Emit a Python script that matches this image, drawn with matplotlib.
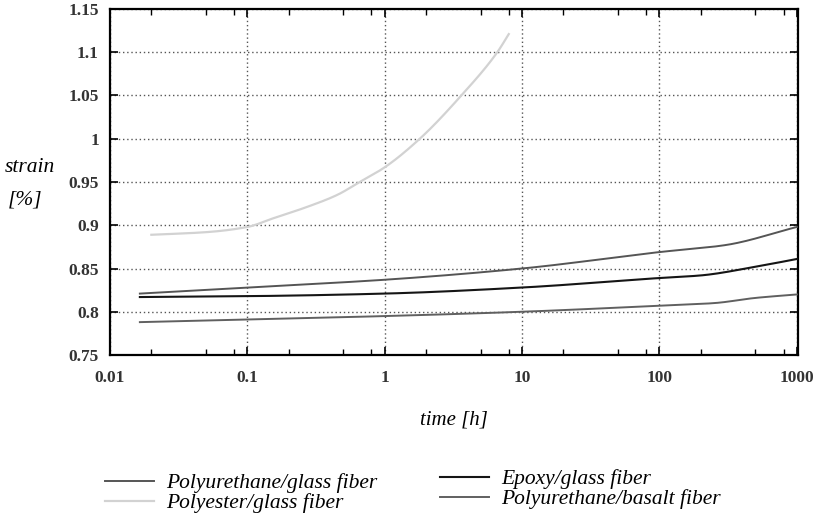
import numpy as np
import matplotlib.pyplot as plt
from matplotlib.ticker import FixedLocator, NullFormatter, FixedFormatter

plt.rcParams.update({
    "font.family": "Liberation Serif",
    "axes.linewidth": 1.6,
})

# time [h] and strain [%]
t_pu_glass = [0.0165, 0.1, 1, 10, 100, 300, 1000]
s_pu_glass = [0.821, 0.828, 0.837, 0.850, 0.869, 0.877, 0.898]

t_polyester = [0.02, 0.05, 0.1, 0.154, 0.27, 0.45, 0.658, 1, 1.8, 3.61, 6.6, 8.0]
s_polyester = [0.889, 0.892, 0.898, 0.908, 0.921, 0.935, 0.950, 0.967, 1.0, 1.05, 1.1, 1.121]

t_epoxy = [0.0165, 0.1, 1, 10, 100, 200, 500, 1000]
s_epoxy = [0.817, 0.818, 0.821, 0.828, 0.839, 0.842, 0.852, 0.861]

t_pu_basalt = [0.0165, 0.1, 1, 10, 100, 250, 500, 1000]
s_pu_basalt = [0.788, 0.791, 0.795, 0.800, 0.807, 0.810, 0.816, 0.820]

x_ticks = [0.01, 0.1, 1, 10, 100, 1000]
x_labels = ["0.01", "0.1", "1", "10", "100", "1000"]
y_ticks = [0.75, 0.8, 0.85, 0.9, 0.95, 1.0, 1.05, 1.1, 1.15]
y_labels = ["0.75", "0.8", "0.85", "0.9", "0.95", "1", "1.05", "1.1", "1.15"]


def pchip(t, s, n=300):
    """Monotone cubic (Fritsch-Carlson) through the read points, in log-time."""
    x = np.log10(np.asarray(t, float))
    y = np.asarray(s, float)
    h = np.diff(x)
    d = np.diff(y) / h
    m = np.zeros_like(y)
    for i in range(1, len(y) - 1):
        if d[i - 1] * d[i] > 0:
            w1 = 2 * h[i] + h[i - 1]
            w2 = h[i] + 2 * h[i - 1]
            m[i] = (w1 + w2) / (w1 / d[i - 1] + w2 / d[i])
    m[0], m[-1] = d[0], d[-1]
    xs = np.linspace(x[0], x[-1], n)
    idx = np.clip(np.searchsorted(x, xs) - 1, 0, len(h) - 1)
    tt = (xs - x[idx]) / h[idx]
    h00 = 2 * tt**3 - 3 * tt**2 + 1
    h10 = tt**3 - 2 * tt**2 + tt
    h01 = -2 * tt**3 + 3 * tt**2
    h11 = tt**3 - tt**2
    ys = h00 * y[idx] + h10 * h[idx] * m[idx] + h01 * y[idx + 1] + h11 * h[idx] * m[idx + 1]
    return 10 ** xs, ys


fig = plt.figure(figsize=(8.22, 5.2), dpi=100)
ax = fig.add_axes([0.1338, 0.3173, 0.837, 0.6654])

series = [
    (t_pu_glass, s_pu_glass, "#555555", 1.4, "Polyurethane/glass fiber"),
    (t_polyester, s_polyester, "#d2d2d2", 1.6, "Polyester/glass fiber"),
    (t_epoxy, s_epoxy, "#151515", 1.5, "Epoxy/glass fiber"),
    (t_pu_basalt, s_pu_basalt, "#606060", 1.4, "Polyurethane/basalt fiber"),
]
lines = []
for t, s, c, lw, lab in series:
    xx, yy = pchip(t, s)
    ln, = ax.plot(xx, yy, color=c, lw=lw, label=lab, zorder=3)
    lines.append(ln)

ax.set_xscale("log")
ax.set_xlim(0.01, 1020)
ax.set_ylim(0.75, 1.15)

ax.xaxis.set_major_locator(FixedLocator(x_ticks))
ax.xaxis.set_major_formatter(FixedFormatter(x_labels))
minor = [m * 10.0 ** e for e in range(-2, 3) for m in (2, 5, 8)]
ax.xaxis.set_minor_locator(FixedLocator(minor))
ax.xaxis.set_minor_formatter(NullFormatter())
ax.yaxis.set_major_locator(FixedLocator(y_ticks))
ax.yaxis.set_major_formatter(FixedFormatter(y_labels))

ax.tick_params(which="major", direction="in", length=6, width=1.2,
               top=True, right=True, labelsize=12.5, colors="black")
ax.tick_params(axis="x", which="major", pad=11)
ax.tick_params(axis="y", which="major", pad=8)
ax.tick_params(which="minor", direction="in", length=4, width=1.0,
               top=True, right=False)
for lab in ax.get_xticklabels() + ax.get_yticklabels():
    lab.set_fontweight("bold")
    lab.set_color("#333333")

ax.grid(True, which="major", color="#555555", linestyle=(0, (1, 2)), linewidth=1.0)

fig.text(0.006, 0.677, "strain", fontsize=15.5, style="italic", ha="left", va="center")
fig.text(0.010, 0.615, "[%]", fontsize=15.5, style="italic", ha="left", va="center")
fig.text(0.552, 0.192, "time [h]", fontsize=15, style="italic", ha="center", va="center")

leg_kw = dict(frameon=False, prop={"style": "italic", "size": 15.5},
              handlelength=2.3, handletextpad=0.55, labelspacing=0.0,
              borderaxespad=0, borderpad=0)
fig.legend(handles=lines[:2], loc="upper left", bbox_to_anchor=(0.1277, 0.090), **leg_kw)
fig.legend(handles=lines[2:], loc="upper left", bbox_to_anchor=(0.535, 0.098), **leg_kw)

fig.savefig("out.png", dpi=100, facecolor="white")
